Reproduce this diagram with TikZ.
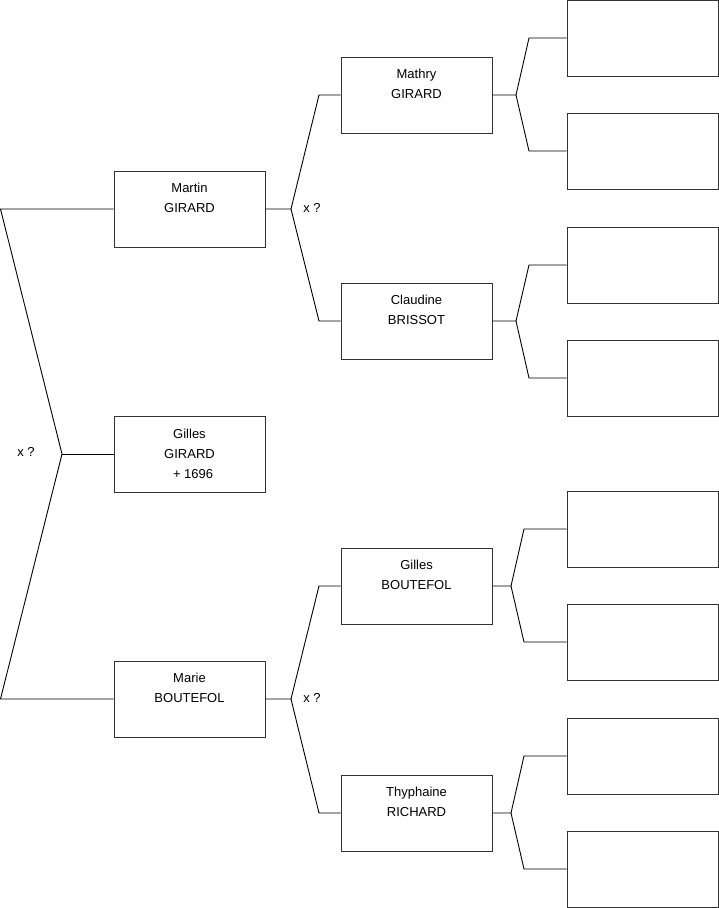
\documentclass[tikz,border=0pt]{standalone}
\usepackage{fontspec}
\setmainfont{Liberation Sans}
\newcommand{\tl}{\\[-4pt]\strut}
\begin{document}
\begin{tikzpicture}[x=1pt,y=-1pt,
  box/.style={draw=black!80, line width=1pt, minimum width=151pt, minimum height=76pt,
    inner sep=0pt, align=center, font=\fontsize{13}{20}\selectfont},
  ln/.style={line width=0.9pt, draw=black},
  lbl/.style={font=\fontsize{13}{15}\selectfont, inner sep=0pt}]
\useasboundingbox (0,0) rectangle (719,908);
% generation 1
\node[box] (m)  at (189.5,209) {Martin\\GIRARD\tl};
\node[box] (g)  at (189.5,454) {Gilles\\GIRARD\\\ \ + 1696};
\node[box] (mb) at (189.5,699) {Marie\\BOUTEFOL\tl};
% generation 2
\node[box] (mg) at (416.5,95)  {Mathry\\GIRARD\tl};
\node[box] (cb) at (416.5,321) {Claudine\\BRISSOT\tl};
\node[box] (gb) at (416.5,586) {Gilles\\BOUTEFOL\tl};
\node[box] (tr) at (416.5,813) {Thyphaine\\RICHARD\tl};
% generation 3
\node[box] (r1) at (642.5,38)  {};
\node[box] (r2) at (642.5,151) {};
\node[box] (r3) at (642.5,265) {};
\node[box] (r4) at (642.5,378) {};
\node[box] (r5) at (642.5,529) {};
\node[box] (r6) at (642.5,642) {};
\node[box] (r7) at (642.5,756) {};
\node[box] (r8) at (642.5,869) {};
% left fork
\coordinate (a0) at (0.5,209);
\coordinate (b0) at (0.5,699);
\coordinate (f0) at (62,454);
\draw[ln] (m.west) -- (a0) -- (f0) -- (b0) -- (mb.west);
\draw[ln] (f0) -- (g.west);
\node[lbl] (x0) at (26,452) {x ?};
% Martin fork
\coordinate (f1) at (291,209);
\draw[ln] (m.east) -- (f1) -- (319,95) -- (mg.west);
\draw[ln] (f1) -- (319,321) -- (cb.west);
\node[lbl] (x1) at (312,208) {x ?};
% Marie fork
\coordinate (f2) at (291,699);
\draw[ln] (mb.east) -- (f2) -- (319,586) -- (gb.west);
\draw[ln] (f2) -- (319,813) -- (tr.west);
\node[lbl] (x2) at (312,698) {x ?};
% generation 3 forks
\coordinate (f3) at (516,95);
\draw[ln] (mg.east) -- (f3) -- (529,38) -- (r1.west);
\draw[ln] (f3) -- (529,151) -- (r2.west);
\coordinate (f4) at (516,321);
\draw[ln] (cb.east) -- (f4) -- (529,265) -- (r3.west);
\draw[ln] (f4) -- (529,378) -- (r4.west);
\coordinate (f5) at (511,586);
\draw[ln] (gb.east) -- (f5) -- (524,529) -- (r5.west);
\draw[ln] (f5) -- (524,642) -- (r6.west);
\coordinate (f6) at (511,813);
\draw[ln] (tr.east) -- (f6) -- (524,756) -- (r7.west);
\draw[ln] (f6) -- (524,869) -- (r8.west);
\end{tikzpicture}
\end{document}
